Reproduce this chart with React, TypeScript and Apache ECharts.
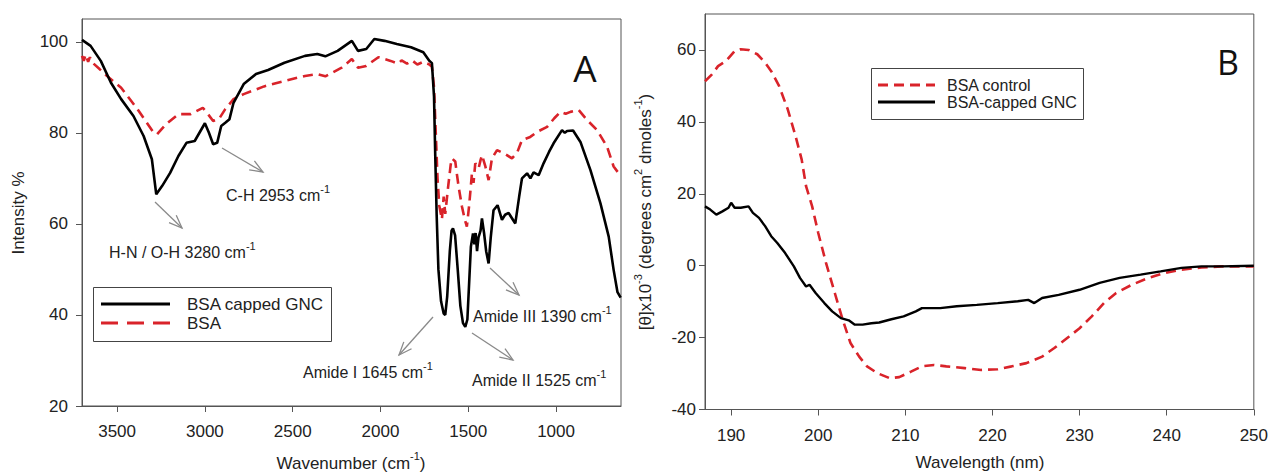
import React, { useEffect, useRef } from "react";
import * as echarts from "echarts";

// ---------- Data ----------
// Panel A: FTIR spectra [wavenumber cm-1, intensity %]
const ftirGNC: number[][] = [
  [3700, 100.4], [3651, 99.1], [3593, 95.8], [3535, 91], [3477, 87.4], [3407, 83.7], [3349, 79.3],
  [3302, 74.2], [3277, 66.5], [3244, 68.3], [3198, 71.2], [3151, 74.9], [3105, 77.8], [3058, 78.2],
  [3000, 82.1], [2977, 80], [2953, 77.5], [2930, 77.8], [2907, 81.5], [2884, 82.2], [2860, 83],
  [2837, 86.6], [2779, 90.7], [2709, 92.9], [2640, 93.8], [2547, 95.4], [2430, 96.9], [2360, 97.3],
  [2314, 96.8], [2244, 98], [2163, 100.2], [2128, 98], [2081, 98.4], [2035, 100.6], [1977, 100.2],
  [1907, 99.5], [1826, 98.8], [1756, 97.7], [1721, 95.8], [1707, 95.3], [1695, 88], [1688, 75],
  [1680, 62], [1670, 50], [1655, 43], [1640, 40.3], [1631, 40.0], [1620, 44], [1605, 54], [1595, 58.5],
  [1587, 59], [1575, 57.5], [1560, 50], [1545, 42], [1530, 38.2], [1517, 37.4], [1505, 39], [1495, 47],
  [1485, 55], [1473, 57.9], [1465, 55.5], [1458, 58], [1450, 54], [1442, 57], [1430, 58.5], [1422, 61.2],
  [1410, 58], [1398, 54], [1384, 51.3], [1372, 57], [1356, 63], [1333, 64.1], [1308, 60.9], [1290, 62],
  [1270, 62.4], [1232, 60.1], [1210, 66], [1194, 70], [1165, 71.1], [1146, 70], [1128, 71.3], [1099, 70.7],
  [1071, 73.3], [1040, 75.8], [1014, 77.7], [966, 80.6], [950, 80], [937, 80.4], [903, 80.5], [861, 78],
  [804, 71.8], [747, 64.5], [700, 57.2], [672, 49.9], [650, 45], [632, 43.8],
];
const ftirBSA: number[][] = [
  [3700, 96.9], [3690, 95.8], [3680, 97.2], [3665, 95.6], [3655, 96.6], [3640, 95.4], [3600, 94],
  [3570, 92.9], [3477, 89.9], [3384, 85.2], [3291, 80], [3272, 79.7], [3221, 81.9], [3151, 84.1],
  [3081, 84.1], [3012, 85.5], [2988, 84.4], [2953, 82.6], [2919, 83.1], [2884, 85.2], [2837, 87.4],
  [2779, 88.5], [2663, 90.2], [2547, 91.4], [2430, 92.5], [2360, 92.9], [2314, 92.4], [2221, 94.3],
  [2163, 96.2], [2128, 94.3], [2081, 94.7], [2012, 96.6], [1942, 95.8], [1900, 95.2], [1880, 95.9],
  [1849, 95.2], [1820, 95.9], [1790, 95.0], [1756, 95.6], [1721, 95], [1707, 94.5], [1695, 90],
  [1685, 80], [1675, 70], [1665, 64], [1660, 63], [1650, 61], [1640, 66], [1631, 62.2], [1615, 68],
  [1600, 73], [1593, 74.4], [1574, 73.7], [1565, 71], [1555, 68.2], [1536, 63.8], [1520, 61],
  [1508, 59.4], [1495, 64], [1479, 71.1], [1470, 69], [1460, 73.3], [1441, 72.2], [1430, 74],
  [1422, 75.1], [1403, 72.7], [1384, 69.6], [1365, 74.4], [1336, 76.2], [1289, 75.3], [1251, 74.4],
  [1222, 75.6], [1194, 78.4], [1147, 79.1], [1108, 80.2], [1051, 81.3], [1010, 83.2], [975, 84.6],
  [945, 84.2], [918, 84.6], [871, 85], [823, 82.8], [766, 80.6], [709, 76.9], [672, 72.6],
  [643, 71.1], [632, 70.5],
];

// Panel B: CD spectra [wavelength nm, [theta] x10^-3]
const cdControl: number[][] = [
  [187.0, 51.3], [187.8, 53.2], [188.5, 55.5], [189.4, 56.9], [190.4, 59.7], [191.1, 60.2], [192.0, 60],
  [193.0, 58.8], [193.9, 56.5], [194.6, 54.1], [195.5, 50], [196.5, 43.5], [197.4, 36], [198.1, 29.5],
  [198.6, 22.1], [199.3, 16.5], [200.0, 9.1], [200.9, 0.7], [201.9, -7.6], [202.8, -15], [203.7, -21.5],
  [204.7, -25.3], [205.6, -28], [206.8, -29.9], [208.2, -31.3], [209.3, -31], [210.7, -29.4],
  [211.9, -28], [213.3, -27.6], [214.7, -28], [216.8, -28.5], [218.7, -29], [220.6, -28.8],
  [222.2, -28], [223.9, -27.1], [225.7, -25.3], [227.1, -22.9], [228.8, -19.7], [230.0, -17.4],
  [231.4, -14.1], [232.8, -10.4], [234.2, -7.6], [236.0, -5.3], [237.9, -3.4], [239.8, -2],
  [241.7, -1.1], [244.0, -0.5], [246.3, -0.2], [250, -0.2],
];
const cdGNC: number[][] = [
  [187.0, 16.5], [187.6, 15.6], [188.3, 14.2], [189.0, 15.1], [189.7, 16.1], [190.0, 17.5], [190.4, 16.1],
  [191.1, 16.1], [192.0, 16.5], [192.5, 14.7], [193.2, 13.3], [193.9, 11], [194.6, 8.2], [195.3, 6.3],
  [196.2, 3.5], [197.2, -0.2], [197.9, -3.4], [198.6, -5.8], [199.0, -5.3], [199.7, -7.6], [200.7, -10.4],
  [201.6, -12.7], [202.6, -14.6], [203.5, -15.2], [204.2, -16.4], [205.1, -16.4], [206.1, -16],
  [207.0, -15.8], [208.4, -14.9], [209.8, -14.1], [211.2, -12.7], [211.9, -11.8], [214.0, -11.8],
  [215.9, -11.3], [218.2, -10.9], [220.6, -10.4], [222.9, -9.9], [224.1, -9.5], [224.8, -10.4],
  [225.7, -9], [227.6, -8.1], [230.0, -6.7], [232.3, -4.8], [234.6, -3.4], [237.0, -2.5],
  [239.3, -1.6], [241.7, -0.6], [244.0, -0.2], [246.3, -0.2], [250, 0],
];

const ftirTicksX = [1000, 1500, 2000, 2500, 3000, 3500];
const ftirTicksY = [20, 40, 60, 80, 100];
const cdTicksX = [190, 200, 210, 220, 230, 240, 250];
const cdTicksY = [-40, -20, 0, 20, 40, 60];

// ---------- Style ----------
const FONT = '"Liberation Sans", Arial, sans-serif';
const RED = "#d9232a";
const FRAME = "#555";
const TXT = "#222";
const ARROW = "#8a8a8a";

function arrow(x1: number, y1: number, x2: number, y2: number) {
  const a = Math.atan2(y2 - y1, x2 - x1);
  const L = 14;
  const s = 0.38;
  return {
    type: "group",
    children: [
      { type: "line", shape: { x1, y1, x2, y2 }, style: { stroke: ARROW, lineWidth: 1.3 } },
      {
        type: "polyline",
        shape: {
          points: [
            [x2 - L * Math.cos(a - s), y2 - L * Math.sin(a - s)],
            [x2, y2],
            [x2 - L * Math.cos(a + s), y2 - L * Math.sin(a + s)],
          ],
        },
        style: { stroke: ARROW, lineWidth: 1.3, fill: null },
      },
    ],
  };
}

function richStyle(size: number) {
  return {
    a: { fontSize: size, fontFamily: FONT, fill: TXT, lineHeight: size + 4, verticalAlign: "bottom" },
    b: { fontSize: Math.round(size * 0.66), fontFamily: FONT, fill: TXT, lineHeight: size + 4, verticalAlign: "top" },
  };
}

function supText(x: number, y: number, text: string, size = 16, align = "left", rotation = 0) {
  return {
    type: "text",
    x,
    y,
    rotation,
    style: { text, align, verticalAlign: "middle", fill: TXT, rich: richStyle(size) },
  };
}

function makeAxis(gridIndex: number, min: number, max: number, ticks: number[], inverse: boolean, margin: number) {
  return {
    type: "value",
    gridIndex,
    min,
    max,
    inverse,
    splitLine: { show: false },
    axisLine: { show: true, onZero: false, lineStyle: { color: FRAME, width: 1 } },
    axisTick: { show: true, inside: false, length: 6, customValues: ticks, lineStyle: { color: FRAME } },
    axisLabel: {
      customValues: ticks,
      color: TXT,
      fontSize: 17,
      fontFamily: FONT,
      margin,
      formatter: (v: number) => String(v),
    },
  };
}

export default function App() {
  const ref = useRef<HTMLDivElement>(null);
  useEffect(() => {
    if (!ref.current) return;
    const chart = echarts.init(ref.current, null, { renderer: "svg" });
    const option: any = {
      animation: false,
      backgroundColor: "#fff",
      grid: [
        { left: 82, top: 19, width: 539, height: 387, show: true, borderColor: FRAME, borderWidth: 1, backgroundColor: "transparent" },
        { left: 705, top: 14, width: 549, height: 395.5, show: true, borderColor: FRAME, borderWidth: 1, backgroundColor: "transparent" },
      ],
      xAxis: [
        makeAxis(0, 630, 3700, ftirTicksX, true, 17),
        makeAxis(1, 187, 250, cdTicksX, false, 17),
      ],
      yAxis: [
        makeAxis(0, 20, 105, ftirTicksY, false, 14),
        makeAxis(1, -40, 70, cdTicksY, false, 9),
      ],
      series: [
        {
          name: "BSA",
          type: "line",
          xAxisIndex: 0,
          yAxisIndex: 0,
          data: ftirBSA,
          showSymbol: false,
          lineStyle: { color: RED, width: 2.6, type: [10, 6] },
          z: 2,
        },
        {
          name: "BSA capped GNC",
          type: "line",
          xAxisIndex: 0,
          yAxisIndex: 0,
          data: ftirGNC,
          showSymbol: false,
          lineStyle: { color: "#000", width: 2.6 },
          z: 3,
        },
        {
          name: "BSA control",
          type: "line",
          xAxisIndex: 1,
          yAxisIndex: 1,
          data: cdControl,
          showSymbol: false,
          lineStyle: { color: RED, width: 2.6, type: [10, 6] },
          z: 2,
        },
        {
          name: "BSA-capped GNC",
          type: "line",
          xAxisIndex: 1,
          yAxisIndex: 1,
          data: cdGNC,
          showSymbol: false,
          lineStyle: { color: "#000", width: 2.4 },
          z: 3,
        },
      ],
      graphic: [
        // Axis titles
        { type: "text", x: 18, y: 213, rotation: Math.PI / 2, style: { text: "Intensity %", align: "center", verticalAlign: "middle", fontSize: 17, fontFamily: FONT, fill: TXT } },
        supText(351, 461, "{a|Wavenumber (cm}{b|-1}{a|)}", 17, "center"),
        supText(643, 212, "{a|[θ]x10}{b|-3}{a| (degrees cm}{b|2}{a| dmoles}{b|-1}{a|)}", 17, "center", Math.PI / 2),
        { type: "text", x: 980, y: 462, style: { text: "Wavelength (nm)", align: "center", verticalAlign: "middle", fontSize: 17, fontFamily: FONT, fill: TXT } },
        // Panel letters
        { type: "text", x: 585, y: 67, style: { text: "A", align: "center", verticalAlign: "middle", fontSize: 37, fontFamily: '"Open Sans", sans-serif', fill: "#111" } },
        { type: "text", x: 1228, y: 62, style: { text: "B", align: "center", verticalAlign: "middle", fontSize: 34, fontFamily: '"Open Sans", sans-serif', fill: "#111" } },
        // Annotations panel A
        supText(226, 193, "{a|C-H 2953 cm}{b|-1}"),
        arrow(222, 148, 263, 172),
        supText(109, 250, "{a|H-N / O-H 3280 cm}{b|-1}"),
        arrow(155, 202, 182, 228),
        supText(303, 370, "{a|Amide I 1645 cm}{b|-1}"),
        arrow(433, 317, 399, 355),
        supText(472, 378, "{a|Amide II 1525 cm}{b|-1}"),
        arrow(472, 333, 513, 360),
        supText(473, 314, "{a|Amide III 1390 cm}{b|-1}"),
        arrow(490, 268, 519, 295),
        // Legend panel A
        { type: "rect", shape: { x: 93.5, y: 287.5, width: 238, height: 54 }, style: { fill: "#fff", stroke: "#444", lineWidth: 1 }, z: 10 },
        { type: "line", shape: { x1: 101, y1: 304, x2: 170, y2: 304 }, style: { stroke: "#000", lineWidth: 3 }, z: 11 },
        { type: "line", shape: { x1: 101, y1: 323, x2: 170, y2: 323 }, style: { stroke: RED, lineWidth: 3, lineDash: [17, 9] }, z: 11 },
        { type: "text", x: 187, y: 304, z: 11, style: { text: "BSA capped GNC", align: "left", verticalAlign: "middle", fontSize: 17, fontFamily: FONT, fill: TXT } },
        { type: "text", x: 187, y: 323, z: 11, style: { text: "BSA", align: "left", verticalAlign: "middle", fontSize: 17, fontFamily: FONT, fill: TXT } },
        // Legend panel B
        { type: "rect", shape: { x: 871.5, y: 68.5, width: 212, height: 51 }, style: { fill: "#fff", stroke: "#444", lineWidth: 1 }, z: 10 },
        { type: "line", shape: { x1: 878, y1: 85, x2: 935, y2: 85 }, style: { stroke: RED, lineWidth: 2.8, lineDash: [10, 6] }, z: 11 },
        { type: "line", shape: { x1: 878, y1: 102, x2: 935, y2: 102 }, style: { stroke: "#000", lineWidth: 2.8 }, z: 11 },
        { type: "text", x: 947, y: 85, z: 11, style: { text: "BSA control", align: "left", verticalAlign: "middle", fontSize: 16, fontFamily: FONT, fill: TXT } },
        { type: "text", x: 947, y: 102, z: 11, style: { text: "BSA-capped GNC", align: "left", verticalAlign: "middle", fontSize: 16, fontFamily: FONT, fill: TXT } },
      ],
    };
    chart.setOption(option);
    return () => chart.dispose();
  }, []);
  return <div ref={ref} style={{ position: "fixed", left: 0, top: 0, width: 1271, height: 473 }} />;
}
